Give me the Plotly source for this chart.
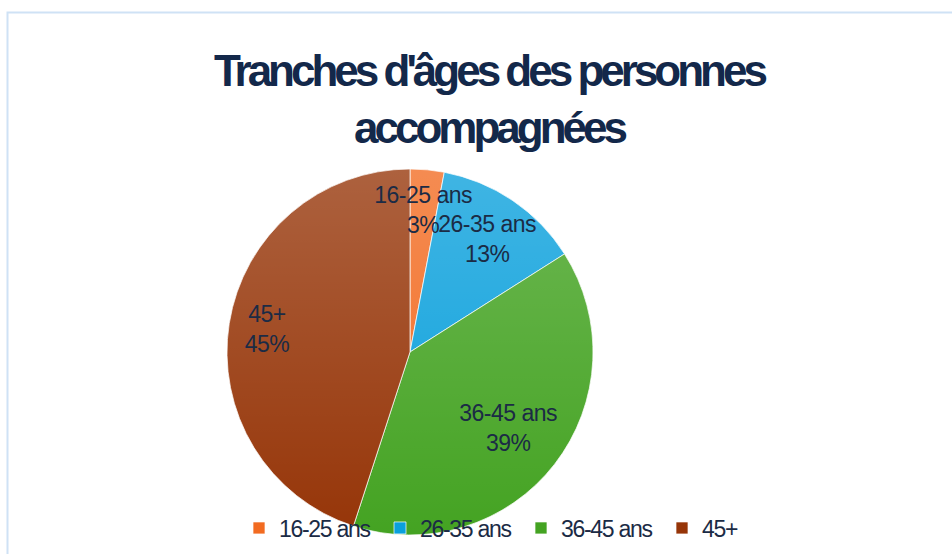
import math
import plotly.graph_objects as go

# ---- data ----
categories = ["16-25 ans", "26-35 ans", "36-45 ans", "45+"]
percentages = [3, 13, 39, 45]
title_text = "Tranches d'âges des personnes<br>accompagnées"

# ---- styles ----
colors = ["#F26B21", "#0AA0DC", "#44A322", "#963508"]
label_radius = [0.78, 0.745, 0.68, 0.79]   # radial position of slice labels (fraction of radius)
text_color = "#1B2B45"
title_color = "#13284A"
FONT = "Liberation Sans, Arial, sans-serif"

W, H = 952, 554
cx_px, cy_px, r_px = 410, 352, 183

cx = cx_px / W
cy = 1 - cy_px / H

fig = go.Figure()
fig.add_trace(go.Pie(
    labels=categories,
    values=percentages,
    sort=False,
    direction="clockwise",
    rotation=0,
    textinfo="none",
    hoverinfo="label+percent",
    marker=dict(colors=colors, line=dict(color="rgba(255,255,255,0.7)", width=1)),
    domain=dict(x=[(cx_px - r_px) / W, (cx_px + r_px) / W],
                y=[1 - (cy_px + r_px) / H, 1 - (cy_px - r_px) / H]),
    showlegend=True,
))

# labels placed along each slice bisector
total = sum(percentages)
cum = 0
annotations = []
for cat, v, f in zip(categories, percentages, label_radius):
    mid = (cum + v / 2) / total * 2 * math.pi
    cum += v
    dx = math.sin(mid) * r_px * f
    dy = math.cos(mid) * r_px * f
    annotations.append(dict(
        x=(cx_px + dx) / W, y=1 - (cy_px - dy) / H, xref="paper", yref="paper",
        text=f"{cat}<br>{round(v / total * 100)}%", showarrow=False,
        font=dict(family=FONT, size=23, color=text_color),
        xanchor="center", yanchor="middle",
    ))

# subtle vertical gradient overlay on the pie
svg = ("<svg xmlns='http://www.w3.org/2000/svg' viewBox='0 0 100 100' preserveAspectRatio='none'>"
       "<defs><linearGradient id='g' x1='0' y1='0' x2='0' y2='1'>"
       "<stop offset='0' stop-color='white' stop-opacity='0.22'/>"
       "<stop offset='1' stop-color='white' stop-opacity='0'/>"
       "</linearGradient></defs><circle cx='50' cy='50' r='50' fill='url(%23g)'/></svg>")
img_src = "data:image/svg+xml;utf8," + svg.replace("<", "%3C").replace(">", "%3E").replace("'", "%27").replace(" ", "%20")

fig.update_layout(
    width=W, height=H,
    margin=dict(l=0, r=0, t=0, b=0),
    paper_bgcolor="white",
    plot_bgcolor="white",
    title=dict(text=title_text, x=489 / W, xanchor="center", y=1 - 86 / H, yanchor="top",
               font=dict(family=FONT, size=44, color=title_color, weight="bold")),
    legend=dict(orientation="h", x=521 / W, xanchor="center", y=1 - 528 / H, yanchor="middle",
                bgcolor="rgba(0,0,0,0)", font=dict(family=FONT, size=23, color=text_color),
                itemwidth=30, traceorder="normal", entrywidth=96),
    annotations=annotations,
    images=[dict(source=img_src, xref="paper", yref="paper", x=cx, y=cy,
                 sizex=2 * r_px / W, sizey=2 * r_px / H, xanchor="center", yanchor="middle",
                 sizing="stretch", layer="above")],
    shapes=[dict(type="rect", xref="paper", yref="paper",
                 x0=7.5 / W, x1=1.05, y0=-0.05, y1=1 - 12.5 / H,
                 line=dict(color="#CFE2F5", width=2), fillcolor="rgba(0,0,0,0)")],
)

post = """
document.body.style.margin = '0';
var gd = document.getElementById('{plot_id}');
function tighten() {
  gd.querySelectorAll('.gtitle').forEach(function (e) { e.style.letterSpacing = '-4px'; });
  gd.querySelectorAll('.annotation-text').forEach(function (e) { e.style.letterSpacing = '-0.5px'; });
  gd.querySelectorAll('.legendtext').forEach(function (e) { e.style.letterSpacing = '-1.3px'; });
}
tighten();
gd.on('plotly_afterplot', tighten);
"""

fig.write_html("out.html", post_script=post, config={"displayModeBar": False})
